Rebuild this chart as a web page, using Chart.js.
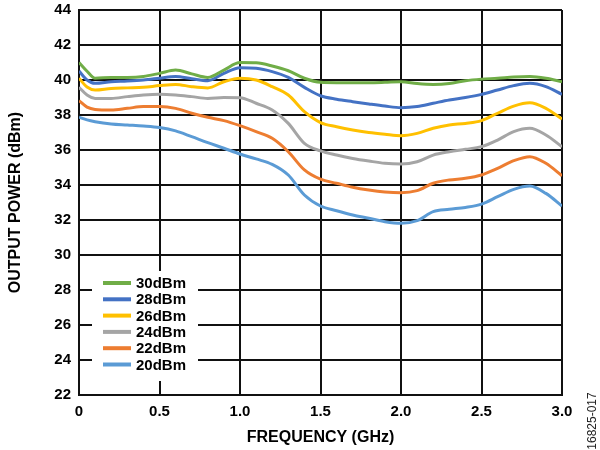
<!DOCTYPE html>
<html>
<head>
<meta charset="utf-8">
<script src="https://cdn.jsdelivr.net/npm/chart.js@4.4.1/dist/chart.umd.min.js"></script>
<style>
  html, body { margin: 0; padding: 0; background: #fff; }
  #wrap { width: 600px; height: 450px; }
</style>
</head>
<body>
<div id="wrap"><canvas id="grafica" width="600" height="450"></canvas></div>
<script>
// frequency points (GHz)
const freq = [0, 0.05, 0.1, 0.2, 0.3, 0.4, 0.5, 0.6, 0.7, 0.8, 0.9, 1.0,
  1.1, 1.2, 1.3, 1.4, 1.5, 1.6, 1.7, 1.8, 1.9, 2.0, 2.1, 2.2, 2.3, 2.4,
  2.5, 2.6, 2.7, 2.8, 2.9, 3.0]

// output power (dBm) for each input level
const p30 = [41.0, 40.5, 40.1, 40.15, 40.15, 40.2, 40.38, 40.57, 40.35, 40.15, 40.57, 41.0,
  40.98, 40.8, 40.53, 40.1, 39.87, 39.85, 39.85, 39.85, 39.87, 39.9, 39.8, 39.75, 39.8, 39.96,
  40.05, 40.1, 40.17, 40.2, 40.1, 39.9]
const p28 = [40.51, 40.0, 39.81, 39.9, 39.94, 40.0, 40.1, 40.2, 40.07, 39.96, 40.38, 40.7,
  40.67, 40.48, 40.15, 39.58, 39.1, 38.9, 38.76, 38.63, 38.51, 38.42, 38.48, 38.67, 38.86, 39.0,
  39.18, 39.43, 39.68, 39.81, 39.62, 39.18]
const p26 = [40.1, 39.6, 39.43, 39.52, 39.55, 39.58, 39.68, 39.75, 39.62, 39.55, 39.9, 40.1,
  40.0, 39.62, 39.14, 38.19, 37.57, 37.33, 37.14, 37.0, 36.9, 36.82, 36.95, 37.24, 37.43, 37.52,
  37.68, 38.1, 38.51, 38.7, 38.38, 37.77]
const p24 = [39.58, 39.14, 38.95, 38.95, 39.05, 39.14, 39.18, 39.14, 39.05, 38.95, 39.0, 38.99,
  38.67, 38.29, 37.52, 36.38, 35.95, 35.71, 35.52, 35.37, 35.24, 35.2, 35.33, 35.71, 35.9, 36.04,
  36.19, 36.57, 37.05, 37.24, 36.86, 36.19]
const p22 = [38.82, 38.45, 38.32, 38.29, 38.38, 38.48, 38.48, 38.38, 38.1, 37.87, 37.68, 37.39,
  37.05, 36.67, 35.9, 34.86, 34.33, 34.1, 33.87, 33.71, 33.6, 33.56, 33.68, 34.1, 34.29, 34.38,
  34.57, 34.95, 35.39, 35.62, 35.24, 34.53]
const p20 = [37.87, 37.72, 37.62, 37.49, 37.43, 37.37, 37.28, 37.09, 36.76, 36.42, 36.1, 35.77,
  35.49, 35.18, 34.57, 33.43, 32.8, 32.53, 32.29, 32.1, 31.9, 31.81, 31.96, 32.48, 32.61, 32.72,
  32.91, 33.33, 33.75, 33.94, 33.52, 32.8]

const seriesNames = ['30dBm', '28dBm', '26dBm', '24dBm', '22dBm', '20dBm']
const seriesColors = ['#70AD47', '#4472C4', '#FFC000', '#A5A5A5', '#ED7D31', '#5B9BD5']
const seriesValues = [p30, p28, p26, p24, p22, p20]

const yMin = 22, yMax = 44, yStep = 2
const xMin = 0, xMax = 3, xStep = 0.5

const FONT = 'Liberation Sans, Arial, Helvetica, sans-serif'

let datasets = seriesNames.map((name, i) => ({
  label: name,
  data: freq.map((f, j) => ({ x: f, y: seriesValues[i][j] })),
  borderColor: seriesColors[i],
  backgroundColor: seriesColors[i],
  borderWidth: 3,
  pointRadius: 0,
  tension: 0.4,
  cubicInterpolationMode: 'monotone',
  fill: false
}))

// legend drawn inside the plot, bottom left, with white box over the grid
const insideLegend = {
  id: 'insideLegend',
  afterDraw(chart) {
    const ctx = chart.ctx
    ctx.save()
    ctx.fillStyle = '#fff'
    ctx.fillRect(92, 271, 106, 110)
    chart.data.datasets.forEach((ds, i) => {
      let y = 283 + i * 16.3
      ctx.strokeStyle = ds.borderColor
      ctx.lineWidth = 4
      ctx.beginPath()
      ctx.moveTo(103, y)
      ctx.lineTo(131, y)
      ctx.stroke()
      ctx.fillStyle = '#000'
      ctx.font = 'bold 15px ' + FONT
      ctx.textAlign = 'left'
      ctx.textBaseline = 'middle'
      ctx.fillText(ds.label, 136, y + 1)
    })
    // figure number on the right edge
    ctx.translate(592.5, 421)
    ctx.rotate(-Math.PI / 2)
    ctx.fillStyle = '#222'
    ctx.font = '12px ' + FONT
    ctx.textAlign = 'center'
    ctx.textBaseline = 'middle'
    ctx.fillText('16825-017', 0, 0)
    ctx.restore()
  }
}

let canvas = document.getElementById('grafica').getContext('2d')
window.chart = new Chart(canvas, {
  type: 'line',
  data: { datasets: datasets },
  plugins: [insideLegend],
  options: {
    responsive: false,
    animation: false,
    devicePixelRatio: 1,
    layout: { padding: { left: 0, right: 38, top: 10, bottom: 0 } },
    plugins: {
      legend: { display: false },
      tooltip: { enabled: false }
    },
    scales: {
      x: {
        type: 'linear',
        min: xMin,
        max: xMax,
        afterFit: s => { s.height = 55 },
        afterBuildTicks: s => {
          s.ticks = []
          for (let v = xMin; v <= xMax + 1e-9; v += xStep) s.ticks.push({ value: +v.toFixed(2) })
        },
        ticks: {
          color: '#000',
          font: { family: FONT, size: 15, weight: 'bold' },
          padding: 8,
          maxRotation: 0,
          callback: v => v === 0 ? '0' : v.toFixed(1)
        },
        grid: { color: '#111', lineWidth: 2, drawTicks: false },
        border: { display: true, color: '#111', width: 2 },
        title: {
          display: true,
          text: 'FREQUENCY (GHz)',
          color: '#000',
          font: { family: FONT, size: 16, weight: 'bold' },
          padding: { top: 0, bottom: 3 }
        }
      },
      y: {
        min: yMin,
        max: yMax,
        afterFit: s => { s.width = 79; s.paddingTop = 0; s.paddingBottom = 0 },
        ticks: {
          stepSize: yStep,
          color: '#000',
          font: { family: FONT, size: 15, weight: 'bold' },
          padding: 8
        },
        grid: { color: '#111', lineWidth: 2, drawTicks: false },
        border: { display: true, color: '#111', width: 2 },
        title: {
          display: true,
          text: 'OUTPUT POWER (dBm)',
          color: '#000',
          font: { family: FONT, size: 16, weight: 'bold' },
          padding: { top: 6, bottom: 0 }
        }
      }
    }
  }
})
</script>
</body>
</html>
